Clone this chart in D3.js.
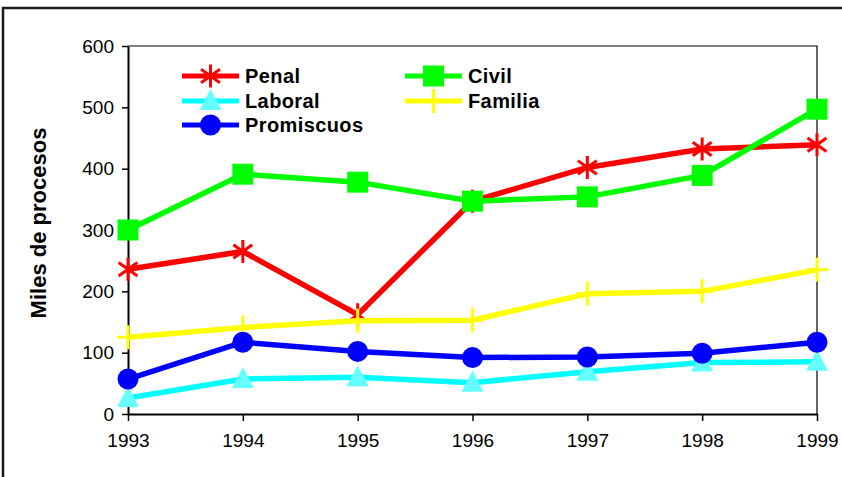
<!DOCTYPE html>
<html>
<head>
<meta charset="utf-8">
<script src="https://cdn.jsdelivr.net/npm/d3@7"></script>
<style>
  html, body { margin: 0; padding: 0; background: #fff; }
  svg { display: block; }
</style>
</head>
<body>
<script>
// ---- data ----
const years = ["1993", "1994", "1995", "1996", "1997", "1998", "1999"];
const penal      = [236, 265, 162, 347, 402, 432, 439];
const civil      = [300, 391, 378, 347, 354, 389, 497];
const laboral    = [26, 57, 60, 51, 69, 84, 85];
const familia    = [125, 141, 152, 153, 196, 200, 235];
const promiscuos = [57, 117, 102, 92, 93, 99, 117];
const yTicks = [0, 100, 200, 300, 400, 500, 600];
const yTitle = "Miles de procesos";

const series = [
  { name: "Penal",      values: penal,      color: "#FF0000", marker: "star" },
  { name: "Civil",      values: civil,      color: "#00FF00", marker: "square" },
  { name: "Laboral",    values: laboral,    color: "#00FFFF", marker: "triangle", markerColor: "#66FFFF" },
  { name: "Familia",    values: familia,    color: "#FFFF00", marker: "plus" },
  { name: "Promiscuos", values: promiscuos, color: "#0000FF", marker: "circle" }
];

// ---- layout ----
const W = 842, H = 477;
const pLeft = 128, pRight = 817, pTop = 46, pBottom = 414;

const svg = d3.select("body").append("svg").attr("width", W).attr("height", H);

// outer frame
svg.append("rect").attr("x", 3).attr("y", 8).attr("width", 900).attr("height", 600)
  .attr("fill", "none").attr("stroke", "#1a1a1a").attr("stroke-width", 2.5);

const x = d3.scalePoint().domain(years).range([pLeft, pRight]);
const y = d3.scaleLinear().domain([0, 600]).range([pBottom, pTop]);

// plot area border (top & right)
svg.append("path")
  .attr("d", `M${pLeft},${pTop}H${pRight}V${pBottom}`)
  .attr("fill", "none").attr("stroke", "#000").attr("stroke-width", 1.2);

// axes
const yAxis = svg.append("g").attr("transform", `translate(${pLeft},0)`)
  .call(d3.axisLeft(y).tickValues(yTicks).tickSize(6).tickPadding(8).tickSizeOuter(0));
const xAxis = svg.append("g").attr("transform", `translate(0,${pBottom})`)
  .call(d3.axisBottom(x).tickSize(7).tickPadding(13).tickSizeOuter(0));

[yAxis, xAxis].forEach(g => {
  g.select(".domain").attr("stroke", "#000").attr("stroke-width", 2);
  g.selectAll(".tick line").attr("stroke", "#000").attr("stroke-width", 1.5);
  g.selectAll(".tick text")
    .attr("fill", "#000")
    .style("font-family", "'Liberation Sans', Arial, sans-serif")
    .style("font-size", "19px");
});

// y title
svg.append("text")
  .attr("transform", `translate(38,223) rotate(-90)`)
  .attr("text-anchor", "middle")
  .attr("dominant-baseline", "central")
  .style("font-family", "'Liberation Sans', Arial, sans-serif")
  .style("font-weight", "bold")
  .style("font-size", "22px")
  .text(yTitle);

// marker drawing
function drawMarker(g, type, color, cx, cy) {
  if (type === "square") {
    g.append("rect").attr("x", cx - 10.5).attr("y", cy - 10.5).attr("width", 21).attr("height", 21).attr("fill", color);
  } else if (type === "circle") {
    g.append("circle").attr("cx", cx).attr("cy", cy).attr("r", 10.5).attr("fill", color);
  } else if (type === "triangle") {
    g.append("path").attr("d", `M${cx},${cy - 12}L${cx + 11},${cy + 9}L${cx - 11},${cy + 9}Z`).attr("fill", color);
  } else if (type === "star") {
    const r = 11.5;
    const d = r * 0.82;
    g.append("path")
      .attr("d", `M${cx},${cy - r}V${cy + r}M${cx - d},${cy - d * 0.72}L${cx + d},${cy + d * 0.72}M${cx - d},${cy + d * 0.72}L${cx + d},${cy - d * 0.72}`)
      .attr("stroke", color).attr("stroke-width", 3).attr("fill", "none");
  } else if (type === "plus") {
    g.append("path")
      .attr("d", `M${cx},${cy - 12}V${cy + 12}M${cx - 11},${cy}H${cx + 11}`)
      .attr("stroke", color).attr("stroke-width", 3).attr("fill", "none");
  }
}

const line = d3.line().x((d, i) => x(years[i])).y(d => y(d));

series.forEach(s => {
  const g = svg.append("g");
  g.append("path").attr("d", line(s.values))
    .attr("fill", "none").attr("stroke", s.color).attr("stroke-width", 5.5)
    .attr("stroke-linejoin", "miter");
  s.values.forEach((v, i) => drawMarker(g, s.marker, s.markerColor || s.color, x(years[i]), y(v)));
});

// legend
const legendPos = [
  { lx: 182, ty: 76 }, { lx: 405, ty: 76 },
  { lx: 182, ty: 101 }, { lx: 405, ty: 101 },
  { lx: 182, ty: 125 }
];
series.forEach((s, i) => {
  const p = legendPos[i];
  const g = svg.append("g");
  g.append("line").attr("x1", p.lx).attr("x2", p.lx + 57).attr("y1", p.ty).attr("y2", p.ty)
    .attr("stroke", s.color).attr("stroke-width", 5);
  drawMarker(g, s.marker, s.markerColor || s.color, p.lx + 28.5, p.ty);
  g.append("text").attr("x", p.lx + 63).attr("y", p.ty)
    .attr("dominant-baseline", "central")
    .style("font-family", "'Liberation Sans', Arial, sans-serif")
    .style("font-weight", "bold")
    .style("font-size", "20px")
    .style("letter-spacing", "0.4px")
    .attr("fill", "#000")
    .text(s.name);
});
</script>
</body>
</html>
